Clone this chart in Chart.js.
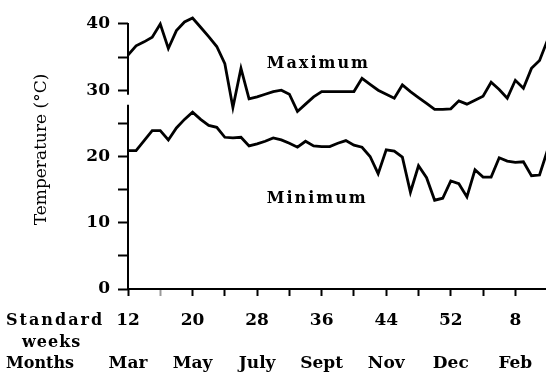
<!DOCTYPE html>
<html>
<head>
<meta charset="utf-8">
<script src="https://cdn.jsdelivr.net/npm/chart.js@4/dist/chart.umd.min.js"></script>
<style>
  html, body { margin: 0; padding: 0; background: #fff; }
  canvas { display: block; }
</style>
</head>
<body>
<canvas id="chart" width="546" height="380"></canvas>
<script>
// Standard meteorological weeks, March through the following March
const weeks = [12, 13, 14, 15, 16, 17, 18, 19, 20, 21, 22, 23, 24, 25, 26, 27, 28, 29, 30, 31,
  32, 33, 34, 35, 36, 37, 38, 39, 40, 41, 42, 43, 44, 45, 46, 47, 48, 49, 50, 51, 52,
  1, 2, 3, 4, 5, 6, 7, 8, 9, 10, 11, 12];

// Weekly maximum temperature (°C)
const maxTemp = [35.3, 36.7, 37.3, 38.0, 40.0, 36.3, 39.0, 40.3, 40.9, 39.5, 38.1, 36.6, 34.0, 27.4,
  33.3, 28.7, 29.0, 29.4, 29.8, 30.0, 29.4, 26.8, 27.9, 29.0, 29.8, 29.8, 29.8, 29.8, 29.8,
  31.8, 30.9, 30.0, 29.4, 28.8, 30.8, 29.8, 28.9, 28.0, 27.1, 27.1, 27.2,
  28.4, 27.9, 28.5, 29.1, 31.2, 30.1, 28.8, 31.5, 30.3, 33.3, 34.5, 37.6];

// Weekly minimum temperature (°C)
const minTemp = [20.9, 20.9, 22.4, 23.9, 23.9, 22.5, 24.3, 25.6, 26.7, 25.6, 24.7, 24.4, 22.9, 22.8,
  22.9, 21.6, 21.9, 22.3, 22.8, 22.5, 22.0, 21.4, 22.3, 21.6, 21.5, 21.5, 22.0, 22.4, 21.7,
  21.4, 20.0, 17.4, 21.0, 20.8, 19.9, 14.6, 18.6, 16.8, 13.4, 13.7, 16.3,
  15.9, 13.9, 18.0, 16.9, 16.9, 19.8, 19.3, 19.1, 19.2, 17.1, 17.2, 21.0];

const seriesNames = ['Maximum', 'Minimum'];

// Labelled axis positions
const weekTicks = [12, 20, 28, 36, 44, 52, 8];
const monthLabels = ['Mar', 'May', 'July', 'Sept', 'Nov', 'Dec', 'Feb'];
const yTicks = [0, 10, 20, 30, 40];
const rowLabels = ['Standard', 'weeks', 'Months'];

// Running week count so the new year continues after week 52
let yearOffset = 0;
const weekPos = weeks.map((w, i) => {
  if (i > 0 && w < weeks[i - 1]) yearOffset += 52;
  return w + yearOffset;
});
const firstWeek = weekPos[0];

const SERIF = '"DejaVu Serif", "Liberation Serif", serif';
const TICK_SIZE = 17;
const TICK_LINE = 1.27;

const annotations = {
  id: 'annotations',
  afterDraw(chart) {
    const { ctx, scales: { x, y } } = chart;
    ctx.save();
    ctx.fillStyle = '#000';

    // Broken temperature axis
    ctx.strokeStyle = '#000';
    ctx.lineWidth = 2;
    const ax = x.left;
    ctx.beginPath();
    ctx.moveTo(ax, y.getPixelForValue(40) - 1);
    ctx.lineTo(ax, y.getPixelForValue(29.3));
    ctx.moveTo(ax, y.getPixelForValue(27.8));
    ctx.lineTo(ax, y.getPixelForValue(0));
    ctx.stroke();

    // Series names beside their lines
    ctx.font = 'bold 16px ' + SERIF;
    ctx.letterSpacing = '2px';
    ctx.textBaseline = 'alphabetic';
    ctx.textAlign = 'left';
    ctx.fillText(seriesNames[0], x.getPixelForValue(29.2), y.getPixelForValue(33.3));
    ctx.fillText(seriesNames[1], x.getPixelForValue(29.2), y.getPixelForValue(13.0));

    // Row captions for the week and month label rows
    const lh = TICK_SIZE * TICK_LINE;
    const y0 = x.top + x.options.grid.tickLength + x.options.ticks.padding + lh / 2;
    ctx.font = 'bold 16px ' + SERIF;
    ctx.textBaseline = 'middle';
    ctx.letterSpacing = '2px';
    ctx.fillText(rowLabels[0], 6, y0);
    ctx.letterSpacing = '1px';
    ctx.fillText(rowLabels[1], 22, y0 + lh);
    ctx.letterSpacing = '0px';
    ctx.fillText(rowLabels[2], 6, y0 + 2 * lh);
    ctx.restore();
  }
};

new Chart(document.getElementById('chart'), {
  type: 'line',
  data: {
    datasets: [
      {
        label: seriesNames[0],
        data: weekPos.map((w, i) => ({ x: w, y: maxTemp[i] })),
        borderColor: '#000',
        borderWidth: 2.8,
        pointRadius: 0,
        tension: 0,
        fill: false
      },
      {
        label: seriesNames[1],
        data: weekPos.map((w, i) => ({ x: w, y: minTemp[i] })),
        borderColor: '#000',
        borderWidth: 2.8,
        pointRadius: 0,
        tension: 0,
        fill: false
      }
    ]
  },
  options: {
    responsive: false,
    animation: false,
    devicePixelRatio: 1,
    layout: { padding: { top: 10, left: 0, right: 0, bottom: 0 } },
    plugins: { legend: { display: false }, tooltip: { enabled: false } },
    scales: {
      x: {
        type: 'linear',
        min: firstWeek,
        max: firstWeek + 51.8,
        afterFit(scale) {
          scale.height = 91;
          scale.paddingLeft = 0;
          scale.paddingRight = 0;
        },
        border: { display: true, color: '#000', width: 2 },
        grid: {
          drawOnChartArea: false,
          drawTicks: true,
          tickLength: 7,
          tickWidth: 2,
          tickColor: (c) => (c.tick && c.tick.value === firstWeek + 4 ? '#9a9a9a' : '#000')
        },
        ticks: {
          stepSize: 4,
          includeBounds: false,
          autoSkip: false,
          maxRotation: 0,
          padding: 14,
          color: '#000',
          font: { family: SERIF, size: TICK_SIZE, weight: 'bold', lineHeight: TICK_LINE },
          callback: (v) => {
            const k = (v - firstWeek) / 8;
            if (!Number.isInteger(k) || k >= weekTicks.length) return '';
            return [String(weekTicks[k]), '', monthLabels[k]];
          }
        }
      },
      y: {
        min: 0,
        max: 42.11,
        afterFit(scale) {
          scale.width = 128;
          scale.paddingTop = 0;
          scale.paddingBottom = 0;
        },
        border: { display: false },
        grid: {
          drawOnChartArea: false,
          drawTicks: true,
          tickLength: 10,
          tickWidth: 2,
          tickColor: '#000'
        },
        ticks: {
          stepSize: 5,
          includeBounds: false,
          padding: 8,
          color: '#000',
          font: { family: SERIF, size: TICK_SIZE, weight: 'bold' },
          callback: (v) => (yTicks.includes(v) ? String(v) : '')
        },
        title: {
          display: true,
          text: 'Temperature (°C)',
          color: '#000',
          font: { family: SERIF, size: 17 },
          padding: { top: 31, bottom: 0 }
        }
      }
    }
  },
  plugins: [annotations]
});
</script>
</body>
</html>
